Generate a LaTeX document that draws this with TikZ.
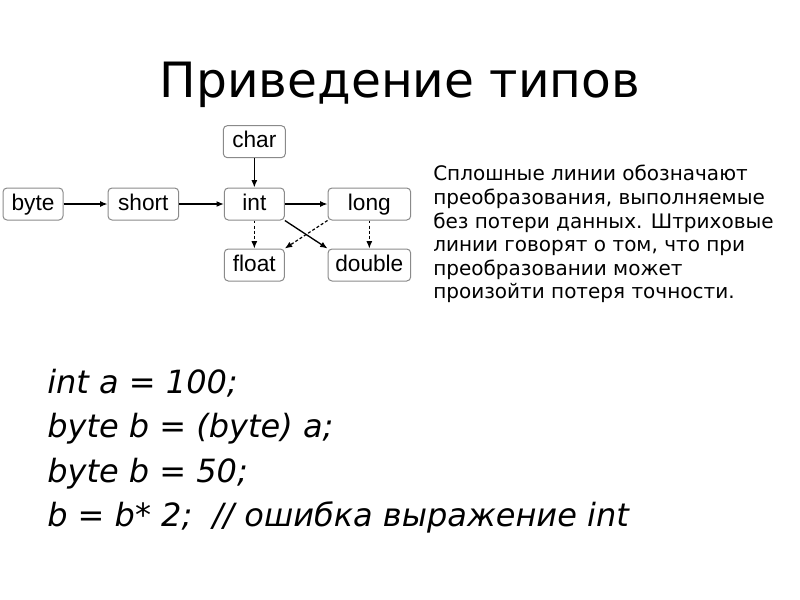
\documentclass[tikz,border=0pt]{standalone}
\usepackage{fontspec}
\setmainfont{DejaVu Sans}
\newfontfamily\boxfont{Liberation Sans}
\usepackage{tikz}
\usetikzlibrary{positioning,arrows.meta}
\definecolor{BoxGray}{HTML}{8A8A8A}

\begin{document}
\begin{tikzpicture}[x=0.75pt, y=-0.75pt, >={Latex[length=5.5pt,width=4.5pt]},
                    every node/.style={inner sep=0pt},
                    typebox/.style={draw=BoxGray, line width=0.75pt, rounded corners=3pt,
                                    minimum height=24pt, text height=12pt, text depth=3pt,
                                    font=\boxfont\fontsize{17}{20}\selectfont},
                    conv/.style={->, line width=1pt},
                    lossy/.style={->, line width=0.9pt, dash pattern=on 2.2pt off 1.6pt}]
\useasboundingbox (0,0) rectangle (800,600);
\node[font=\fontsize{36.5}{40}\selectfont, anchor=base] (title) at (400,97) {Приведение типов};
% type graph
\node[typebox, minimum width=45pt] (byte) at (33,204) {byte};
\node[typebox, minimum width=53pt, right=33pt of byte] (short) {short};
\node[typebox, minimum width=45pt, right=33.5pt of short] (int) {int};
\node[typebox, minimum width=62pt, right=32pt of int] (long) {long};
\node[typebox, minimum width=46.5pt, above=22pt of int] (char) {char};
\node[typebox, minimum width=45pt, below=21pt of int] (float) {float};
\node[typebox, minimum width=62pt, below=21pt of long] (double) {double};
\draw[conv] (byte) -- (short);
\draw[conv] (short) -- (int);
\draw[conv] (int) -- (long);
\draw[conv] (char) -- (int);
\draw[conv] (int.south east) -- (double.north west);
\draw[lossy] (int) -- (float);
\draw[lossy] (long.south west) -- (float.north east);
\draw[lossy] (long) -- (double);
% legend text
\node[anchor=north west, align=left, font=\fontsize{15}{17.7}\selectfont] (note) at (433,165)
  {Сплошные линии обозначают\\
   преобразования, выполняемые\\
   без потери данных. Штриховые\\
   линии говорят о том, что при\\
   преобразовании может\\
   произойти потеря точности.};
% code sample
\node[anchor=north west, align=left, font=\itshape\fontsize{24}{33.2}\selectfont] (code) at (47,369)
  {int a = 100;\\
   byte b = (byte) a;\\
   byte b = 50;\\
   b = b* 2;\ \ // ошибка выражение int};
\end{tikzpicture}
\end{document}
